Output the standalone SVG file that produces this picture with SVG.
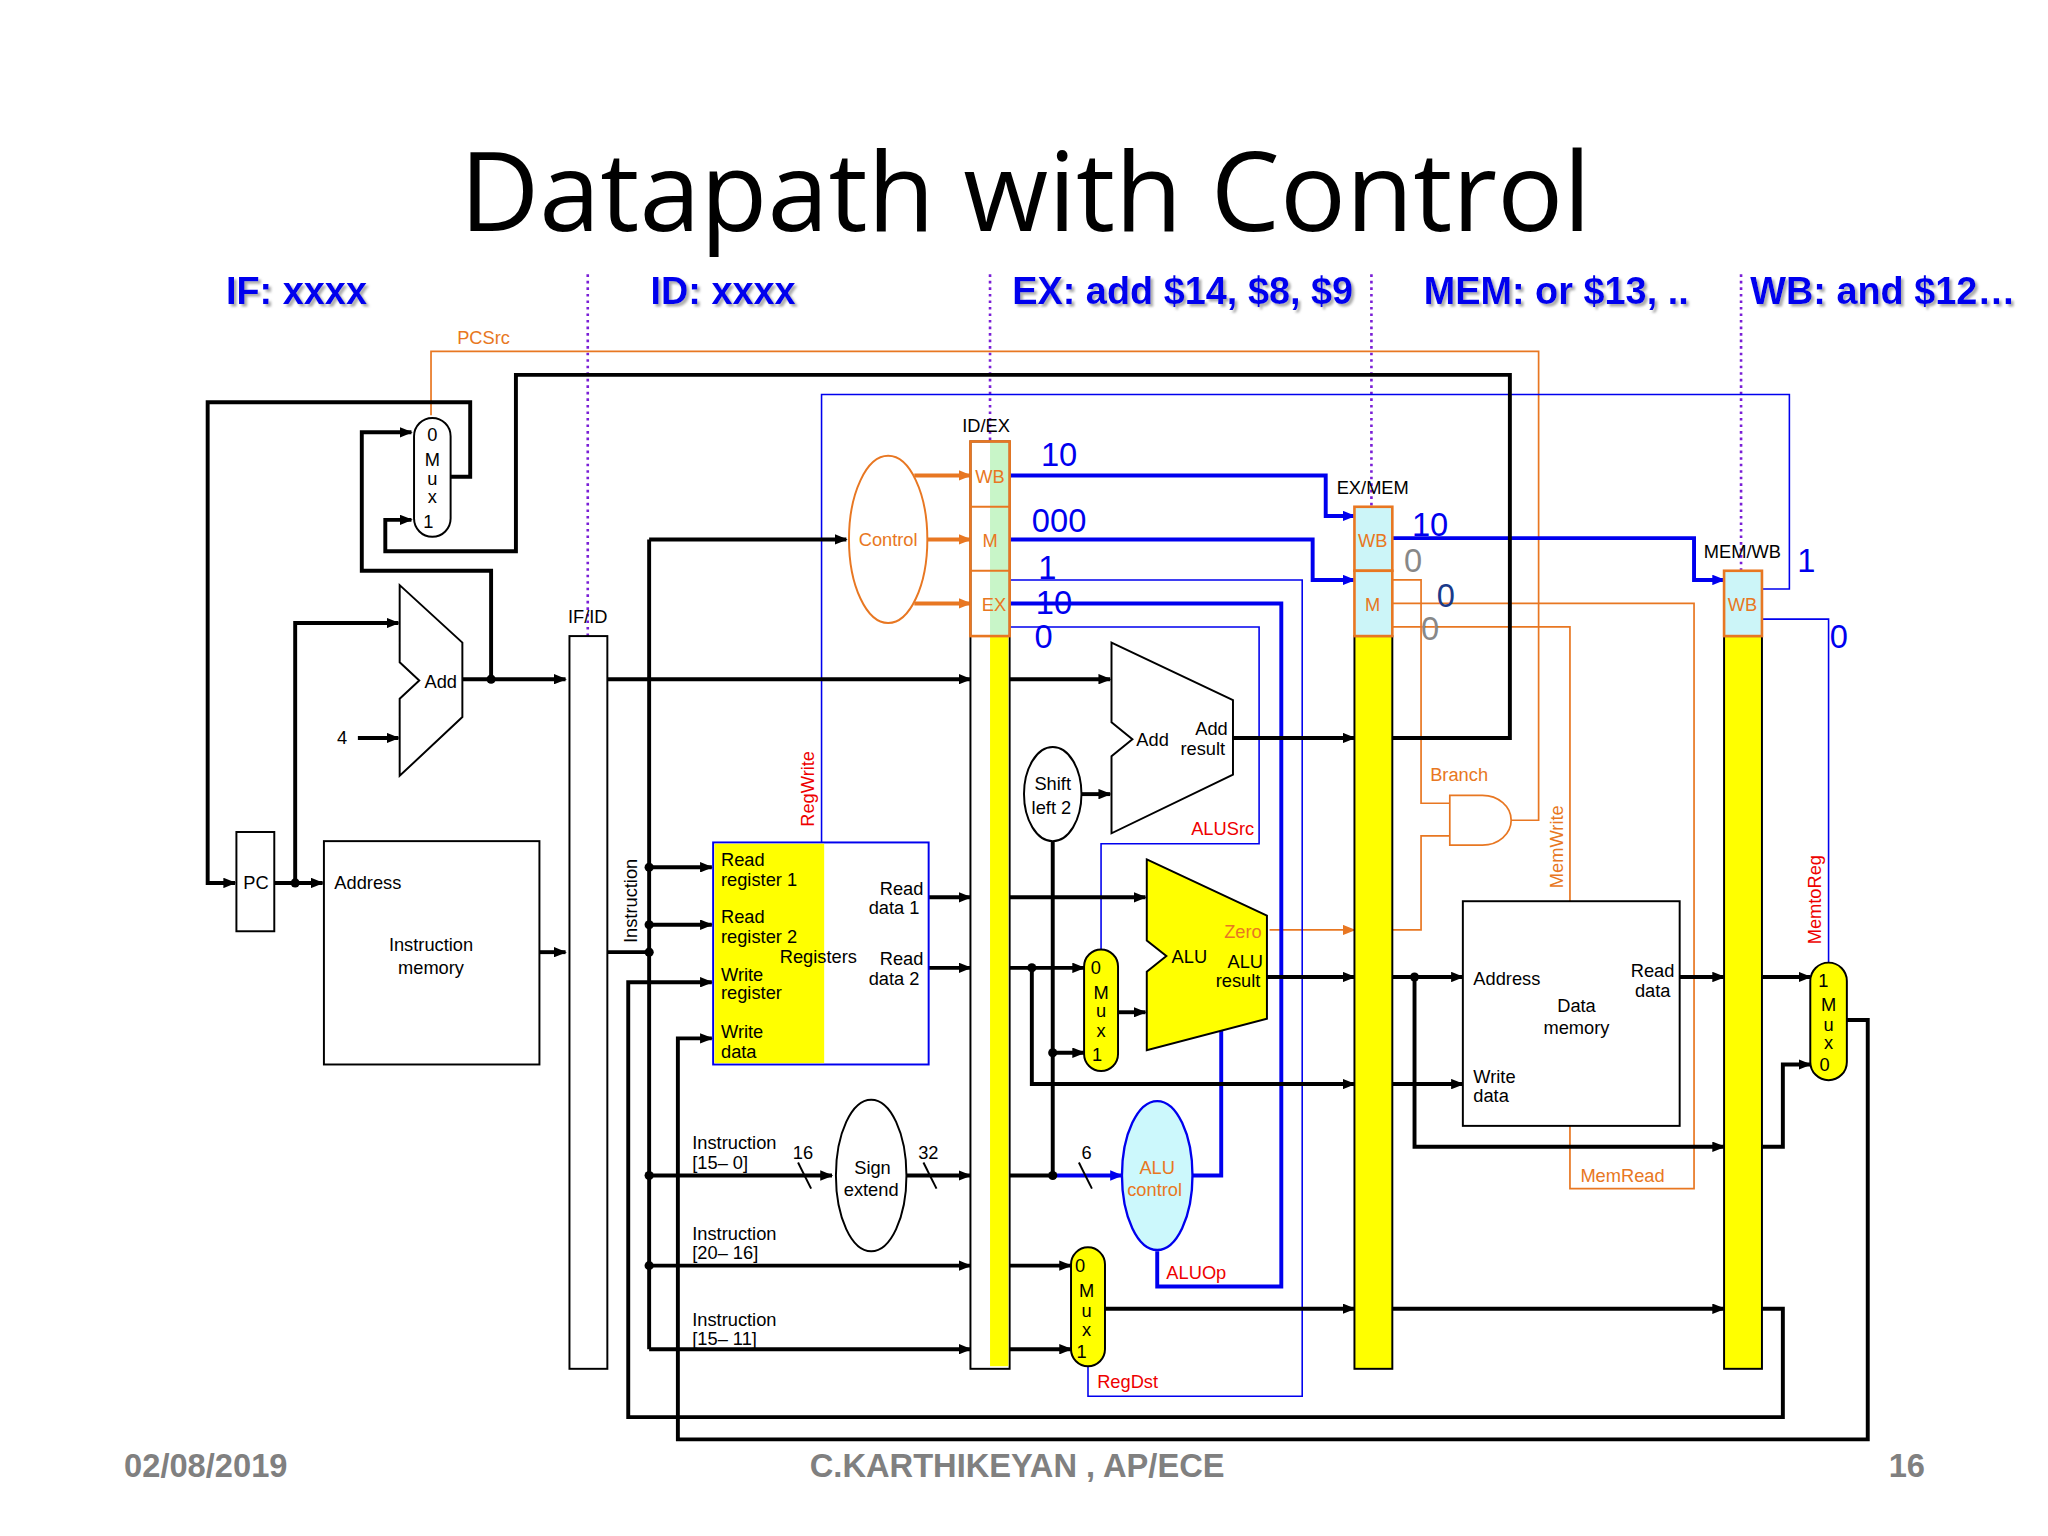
<svg xmlns="http://www.w3.org/2000/svg" width="2048" height="1536" viewBox="0 0 2048 1536">
<defs>
<marker id="ab" markerWidth="10" markerHeight="8" refX="9" refY="4" orient="auto" markerUnits="userSpaceOnUse"><path d="M0,0 L10,4 L0,8 z" fill="#000"/></marker>
<marker id="ao" markerWidth="10" markerHeight="8" refX="9" refY="4" orient="auto" markerUnits="userSpaceOnUse"><path d="M0,0 L10,4 L0,8 z" fill="#e87722"/></marker>
<marker id="abl" markerWidth="10" markerHeight="8" refX="9" refY="4" orient="auto" markerUnits="userSpaceOnUse"><path d="M0,0 L10,4 L0,8 z" fill="#0000ee"/></marker>
<filter id="sh"><feDropShadow dx="2" dy="2" stdDeviation="1" flood-color="#888" flood-opacity="0.7"/></filter>
<style>
text{font-family:"Liberation Sans",Arial,sans-serif;}
.t{font-size:14px;fill:#000}
.o{font-size:14px;fill:#e87722}
.r{font-size:14px;fill:#e00}
.nb{font-size:25px;fill:#0000ee}
.st{font-size:29px;font-weight:bold;fill:#0000ee;filter:url(#sh)}
.ft{font-size:25px;font-weight:bold;fill:#808080}
.k{fill:none;stroke:#000;stroke-width:3}
.km{fill:none;stroke:#000;stroke-width:3;marker-end:url(#ab)}
.b{fill:none;stroke:#0000ee;stroke-width:1.2}
.B{fill:none;stroke:#0000ee;stroke-width:3}
.Bm{fill:none;stroke:#0000ee;stroke-width:3;marker-end:url(#abl)}
.or{fill:none;stroke:#e87722;stroke-width:1.3}
.om{fill:none;stroke:#e87722;stroke-width:1.3;marker-end:url(#ao)}
.oc{fill:none;stroke:#e87722;stroke-width:3;marker-end:url(#ao)}
.box{fill:#fff;stroke:#000;stroke-width:1.5}
.mux{fill:#ff0;stroke:#000;stroke-width:1.5}
.dot{fill:#000}
.dv{stroke:#7a1fd6;stroke-width:2;stroke-dasharray:2,3}
</style>
</defs>
<rect width="2048" height="1536" fill="#fff"/>
<g transform="scale(1.30612)">
<text x="785" y="177" text-anchor="middle" style="font-family:'Open Sans','Liberation Sans',sans-serif;font-size:84px">Datapath with Control</text>
<g id="stages">
<text class="st" x="173" y="233">IF: xxxx</text>
<text class="st" x="498" y="233">ID: xxxx</text>
<text class="st" x="775" y="233">EX: add $14, $8, $9</text>
<text class="st" x="1090" y="233">MEM: or $13, ..</text>
<text class="st" x="1340" y="233">WB: and $12…</text>
<line class="dv" x1="450" y1="210" x2="450" y2="495"/>
<line class="dv" x1="758" y1="210" x2="758" y2="490"/>
<line class="dv" x1="1050" y1="210" x2="1050" y2="480"/>
<line class="dv" x1="1333" y1="210" x2="1333" y2="452"/>
</g>

<g id="connectors">
<polyline class="or" points="330,318 330,269 1178,269 1178,628 1157,628"/>
<polyline class="or" points="1066,444 1088,444 1088,615 1110,615"/>
<polyline class="or" points="1066,712 1088,712 1088,640 1110,640"/>
<polyline class="om" points="972,712 1037,712"/>
<polyline class="or" points="1066,462 1297,462 1297,910 1202,910 1202,862"/>
<polyline class="or" points="1066,480 1202,480 1202,690"/>
<line class="oc" x1="700" y1="364" x2="743" y2="364"/>
<line class="oc" x1="710" y1="413" x2="743" y2="413"/>
<line class="oc" x1="700" y1="462" x2="743" y2="462"/>
<polyline class="b" points="629,645 629,302 1370,302 1370,451 1349,451"/>
<polyline class="b" points="1349,474 1400,474 1400,737"/>
<polyline class="Bm" points="773,364 1015,364 1015,395 1037,395"/>
<polyline class="Bm" points="773,413 1005,413 1005,444 1037,444"/>
<polyline class="B" points="773,462 981,462 981,985 886,985 886,958"/>
<polyline class="b" points="773,444 997,444 997,1069 833,1069 833,1045"/>
<polyline class="b" points="773,480 964,480 964,646 843,646 843,727"/>
<polyline class="Bm" points="1066,412 1297,412 1297,444 1320,444"/>
<polyline class="B" points="913,900 935,900 935,778"/>
<polyline class="Bm" points="806,900 859,900"/>
<polyline class="km" points="345,365 360,365 360,308 159,308 159,676 180,676"/>
<polyline class="km" points="1037,565 1156,565 1156,287 395,287 395,422 295,422 295,398 315,398"/>
<polyline class="km" points="376,520 376,437 277,437 277,331 315,331"/>
<polyline class="km" points="354,520 433,520"/>
<polyline class="km" points="226,676 226,477 305,477"/>
<polyline class="km" points="274,565 305,565"/>
<polyline class="km" points="210,676 247,676"/>
<polyline class="km" points="413,729 433,729"/>
<polyline class="km" points="465,520 743,520"/>
<polyline class="k" points="465,729 497,729"/>
<polyline class="k" points="497,413 497,1033"/>
<polyline class="km" points="497,413 648,413"/>
<polyline class="km" points="497,664 545,664"/>
<polyline class="km" points="497,708 545,708"/>
<polyline class="km" points="497,900 637,900"/>
<polyline class="km" points="497,969 743,969"/>
<polyline class="km" points="497,1033 743,1033"/>
<polyline class="km" points="1349,1002 1365,1002 1365,1085 481,1085 481,752 545,752"/>
<polyline class="km" points="1414,781 1430,781 1430,1102 519,1102 519,795 545,795"/>
<polyline class="km" points="711,687 743,687"/>
<polyline class="km" points="711,741 743,741"/>
<polyline class="km" points="694,900 743,900"/>
<line stroke="#000" stroke-width="1.5" x1="611" y1="890" x2="621" y2="910"/>
<line stroke="#000" stroke-width="1.5" x1="707" y1="890" x2="717" y2="910"/>
<line stroke="#000" stroke-width="1.5" x1="826" y1="890" x2="836" y2="910"/>
<polyline class="km" points="773,520 850,520"/>
<polyline class="km" points="944,565 1037,565"/>
<polyline class="km" points="828,608 850,608"/>
<polyline class="k" points="773,900 806,900 806,644"/>
<polyline class="km" points="806,806 830,806"/>
<polyline class="km" points="773,687 877,687"/>
<polyline class="km" points="773,741 830,741"/>
<polyline class="km" points="790,741 790,830 1037,830"/>
<polyline class="km" points="856,775 877,775"/>
<polyline class="km" points="970,748 1037,748"/>
<polyline class="km" points="773,969 820,969"/>
<polyline class="km" points="773,1033 820,1033"/>
<polyline class="km" points="846,1002 1037,1002"/>
<polyline class="km" points="1066,748 1120,748"/>
<polyline class="km" points="1083,748 1083,878 1320,878"/>
<polyline class="km" points="1066,830 1120,830"/>
<polyline class="km" points="1066,1002 1320,1002"/>
<polyline class="km" points="1286,748 1320,748"/>
<polyline class="km" points="1349,748 1386,748"/>
<polyline class="km" points="1349,878 1365,878 1365,815 1386,815"/>
<g class="dot">
<circle cx="376" cy="520" r="3.5"/><circle cx="226" cy="676" r="3.5"/>
<circle cx="497" cy="664" r="3.5"/><circle cx="497" cy="708" r="3.5"/><circle cx="497" cy="729" r="3.5"/>
<circle cx="497" cy="900" r="3.5"/><circle cx="497" cy="969" r="3.5"/>
<circle cx="806" cy="900" r="3.5"/><circle cx="806" cy="806" r="3.5"/><circle cx="790" cy="741" r="3.5"/>
<circle cx="1083" cy="748" r="3.5"/>
</g>
</g>

<g id="pcmux"><rect class="box" x="317" y="320" width="28" height="91" rx="14"/>
<text class="t" x="331" y="338" text-anchor="middle">0</text><text class="t" x="331" y="357" text-anchor="middle">M</text><text class="t" x="331" y="371" text-anchor="middle">u</text><text class="t" x="331" y="385" text-anchor="middle">x</text><text class="t" x="328" y="404" text-anchor="middle">1</text></g>
<text class="o" x="350" y="263">PCSrc</text>
<g id="pc"><rect class="box" x="181" y="637" width="29" height="76"/><text class="t" x="196" y="681" text-anchor="middle">PC</text></g>
<g id="addIF"><polygon class="box" points="306,448 354,492 354,549 306,594 306,535 321,521 306,507"/><text class="t" x="325" y="527">Add</text><text class="t" x="258" y="570">4</text></g>
<g id="imem"><rect class="box" x="248" y="644" width="165" height="171"/><text class="t" x="256" y="681">Address</text><text class="t" x="330" y="728" text-anchor="middle">Instruction</text><text class="t" x="330" y="746" text-anchor="middle">memory</text></g>
<g id="ifid"><rect class="box" x="436" y="487" width="29" height="561"/><text class="t" x="450" y="477" text-anchor="middle">IF/ID</text></g>
<text class="t" transform="translate(488,722) rotate(-90)">Instruction</text>
<g id="control"><ellipse cx="680" cy="413" rx="30" ry="64" fill="#fff" stroke="#e87722" stroke-width="1.5"/><text class="o" x="680" y="418" text-anchor="middle">Control</text></g>
<g id="regs"><rect x="546" y="645" width="165" height="170" fill="#fff" stroke="#0000ee" stroke-width="1.5"/><rect x="547" y="646" width="84" height="168" fill="#ff0"/>
<text class="t" x="552" y="663">Read</text><text class="t" x="552" y="678">register 1</text>
<text class="t" x="552" y="707">Read</text><text class="t" x="552" y="722">register 2</text>
<text class="t" x="552" y="751">Write</text><text class="t" x="552" y="765">register</text>
<text class="t" x="552" y="795">Write</text><text class="t" x="552" y="810">data</text>
<text class="t" x="597" y="737">Registers</text>
<text class="t" x="707" y="685" text-anchor="end">Read</text><text class="t" x="704" y="700" text-anchor="end">data 1</text>
<text class="t" x="707" y="739" text-anchor="end">Read</text><text class="t" x="704" y="754" text-anchor="end">data 2</text></g>
<text class="r" transform="translate(623,633) rotate(-90)">RegWrite</text>
<g id="sext"><ellipse cx="667" cy="900" rx="27" ry="58" fill="#fff" stroke="#000" stroke-width="1.5"/><text class="t" x="668" y="899" text-anchor="middle">Sign</text><text class="t" x="667" y="916" text-anchor="middle">extend</text></g>
<text class="t" x="607" y="887">16</text><text class="t" x="703" y="887">32</text><text class="t" x="828" y="887">6</text>
<text class="t" x="530" y="880">Instruction</text><text class="t" x="530" y="895">[15– 0]</text>
<text class="t" x="530" y="949">Instruction</text><text class="t" x="530" y="964">[20– 16]</text>
<text class="t" x="530" y="1015">Instruction</text><text class="t" x="530" y="1030">[15– 11]</text>

<g id="idex"><rect x="743" y="338" width="30" height="710" fill="#fff" stroke="#000" stroke-width="1.5"/>
<rect x="758" y="339" width="14" height="148" fill="#c8f5c8"/><rect x="758" y="487" width="14" height="559" fill="#ff0"/>
<rect x="743" y="338" width="30" height="149" fill="none" stroke="#e87722" stroke-width="2"/>
<line x1="743" y1="388" x2="773" y2="388" stroke="#e87722" stroke-width="1.5"/><line x1="743" y1="437" x2="773" y2="437" stroke="#e87722" stroke-width="1.5"/>
<text class="o" x="758" y="370" text-anchor="middle">WB</text><text class="o" x="758" y="419" text-anchor="middle">M</text><text class="o" x="761" y="468" text-anchor="middle">EX</text>
<text class="t" x="755" y="331" text-anchor="middle">ID/EX</text></g>
<g id="exmem"><rect x="1037" y="487" width="29" height="561" fill="#ff0" stroke="#000" stroke-width="1.5"/>
<rect x="1037" y="388" width="29" height="49" fill="#ccf5f8" stroke="#e87722" stroke-width="2"/><rect x="1037" y="437" width="29" height="50" fill="#ccf5f8" stroke="#e87722" stroke-width="2"/>
<text class="o" x="1051" y="419" text-anchor="middle">WB</text><text class="o" x="1051" y="468" text-anchor="middle">M</text>
<text class="t" x="1051" y="378" text-anchor="middle">EX/MEM</text></g>
<g id="memwb"><rect x="1320" y="487" width="29" height="561" fill="#ff0" stroke="#000" stroke-width="1.5"/>
<rect x="1320" y="437" width="29" height="50" fill="#ccf5f8" stroke="#e87722" stroke-width="2"/>
<text class="o" x="1334" y="468" text-anchor="middle">WB</text>
<text class="t" x="1334" y="427" text-anchor="middle">MEM/WB</text></g>

<g id="vals">
<text class="nb" x="797" y="357">10</text><text class="nb" x="790" y="407">000</text><text class="nb" x="795" y="443">1</text><text class="nb" x="793" y="470">10</text><text class="nb" x="792" y="496">0</text>
<text class="nb" x="1081" y="410">10</text><text class="nb" x="1075" y="438" style="fill:#888">0</text><text class="nb" x="1100" y="465" style="fill:#1a3a8a">0</text><text class="nb" x="1088" y="490" style="fill:#888">0</text>
<text class="nb" x="1376" y="438">1</text><text class="nb" x="1401" y="496">0</text>
</g>

<g id="addEX"><polygon class="box" points="851,492 944,536 944,593 851,638 851,579 867,566 851,553"/><text class="t" x="870" y="571">Add</text><text class="t" x="940" y="563" text-anchor="end">Add</text><text class="t" x="938" y="578" text-anchor="end">result</text></g>
<g id="shift"><ellipse cx="806" cy="608" rx="22" ry="36" fill="#fff" stroke="#000" stroke-width="1.5"/><text class="t" x="806" y="605" text-anchor="middle">Shift</text><text class="t" x="805" y="623" text-anchor="middle">left 2</text></g>
<text class="r" x="912" y="639">ALUSrc</text>
<g id="alusrcmux"><rect class="mux" x="830" y="727" width="26" height="93" rx="13"/>
<text class="t" x="839" y="746" text-anchor="middle">0</text><text class="t" x="843" y="765" text-anchor="middle">M</text><text class="t" x="843" y="779" text-anchor="middle">u</text><text class="t" x="843" y="794" text-anchor="middle">x</text><text class="t" x="840" y="812" text-anchor="middle">1</text></g>
<g id="alu"><polygon points="878,658 970,701 970,780 878,804 878,744 893,732 878,720" fill="#ff0" stroke="#000" stroke-width="1.5"/>
<text class="t" x="897" y="737">ALU</text><text class="o" x="966" y="718" text-anchor="end">Zero</text><text class="t" x="967" y="741" text-anchor="end">ALU</text><text class="t" x="965" y="756" text-anchor="end">result</text></g>
<g id="aluctl"><ellipse cx="886" cy="900" rx="27" ry="57" fill="#ccf8fc" stroke="#0000ee" stroke-width="1.8"/><text class="o" x="886" y="899" text-anchor="middle">ALU</text><text class="o" x="884" y="916" text-anchor="middle">control</text></g>
<text class="r" x="893" y="979">ALUOp</text>
<g id="regdstmux"><rect class="mux" x="820" y="955" width="26" height="91" rx="13"/>
<text class="t" x="827" y="974" text-anchor="middle">0</text><text class="t" x="832" y="993" text-anchor="middle">M</text><text class="t" x="832" y="1008" text-anchor="middle">u</text><text class="t" x="832" y="1023" text-anchor="middle">x</text><text class="t" x="828" y="1040" text-anchor="middle">1</text></g>
<text class="r" x="840" y="1063">RegDst</text>

<g id="and"><path d="M1110,609 L1135,609 A22,19 0 0 1 1135,647 L1110,647 Z" fill="#fff" stroke="#e87722" stroke-width="1.3"/></g>
<text class="o" x="1095" y="598">Branch</text>
<text class="o" transform="translate(1197,680) rotate(-90)">MemWrite</text>
<text class="o" x="1210" y="905">MemRead</text>
<g id="dmem"><rect class="box" x="1120" y="690" width="166" height="172"/>
<text class="t" x="1128" y="754">Address</text><text class="t" x="1207" y="775" text-anchor="middle">Data</text><text class="t" x="1207" y="792" text-anchor="middle">memory</text>
<text class="t" x="1282" y="748" text-anchor="end">Read</text><text class="t" x="1279" y="763" text-anchor="end">data</text>
<text class="t" x="1128" y="829">Write</text><text class="t" x="1128" y="844">data</text></g>
<text class="r" transform="translate(1394,723) rotate(-90)">MemtoReg</text>
<g id="wbmux"><rect class="mux" x="1386" y="737" width="28" height="90" rx="14"/>
<text class="t" x="1396" y="756" text-anchor="middle">1</text><text class="t" x="1400" y="774" text-anchor="middle">M</text><text class="t" x="1400" y="789" text-anchor="middle">u</text><text class="t" x="1400" y="803" text-anchor="middle">x</text><text class="t" x="1397" y="820" text-anchor="middle">0</text></g>

<text class="ft" x="95" y="1131">02/08/2019</text>
<text class="ft" x="620" y="1131">C.KARTHIKEYAN , AP/ECE</text>
<text class="ft" x="1446" y="1131">16</text>
</g>
</svg>
